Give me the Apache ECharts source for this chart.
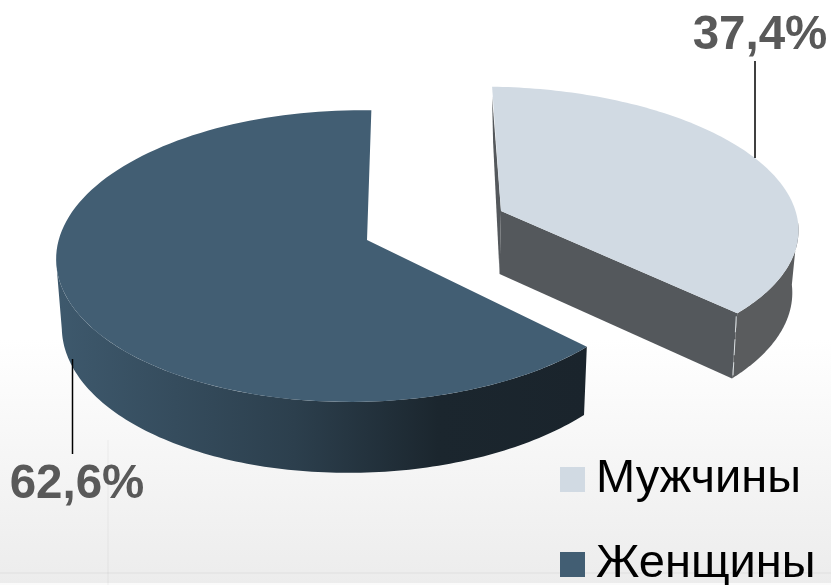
<!DOCTYPE html>
<html><head><meta charset="utf-8">
<style>html,body{margin:0;padding:0;background:#fff}#c{width:831px;height:585px}</style>
<script src="https://cdn.jsdelivr.net/npm/echarts@6/dist/echarts.min.js"></script>
</head><body><div id="c"></div>
<script>
var categories = ['Мужчины', 'Женщины'];
var shareValues = [37.4, 62.6];
var valueLabels = ['37,4%', '62,6%'];
var colors = ['#d1dae3', '#425e73'];

var vanishX = 411, persp = 0.11, skew = -0.035, shrink = 0.984;
var slices = [
  {cx: 501, cy: 211, rx: 308, ry: 138, h: 63},
  {cx: 367, cy: 240, rx: 296, ry: 144, h: 66}
];
var leaders = [
  {x: 755, y1: 61, y2: 158, tx: 760, ty: 36},
  {x: 72.5, y1: 359, y2: 454, tx: 77, ty: 485}
];

function project(s, t, down) {
  var u = Math.sin(t), v = -Math.cos(t);
  var w = 1 - persp * v - skew * u;
  var x = vanishX + (s.cx - vanishX + s.rx * u) / w;
  var y = s.cy + s.ry * v / w;
  if (down) {
    y += s.h * (1 + 0.6 * (1 / w - 1));
    x = vanishX + (x - vanishX) * shrink;
  }
  return [x, y];
}
function apex(s, down) {
  var x = s.cx, y = s.cy;
  if (down) { y += s.h; x = vanishX + (x - vanishX) * shrink; }
  return [x, y];
}
function arc(s, a, b, down) {
  var pts = [], n = 120;
  for (var i = 0; i <= n; i++) pts.push(project(s, a + (b - a) * i / n, down));
  return pts;
}
function poly(points, style) {
  return {type: 'polygon', shape: {points: points}, style: style, silent: true};
}
function line(x1, y1, x2, y2, style) {
  return {type: 'line', shape: {x1: x1, y1: y1, x2: x2, y2: y2}, style: style, silent: true};
}
var total = shareValues[0] + shareValues[1];
var rad = Math.PI / 180;

function renderSlice(index) {
  return function (params, api) {
    var s = slices[index], l = leaders[index], value = api.value(0);
    var sweep = value / total * 360 * rad;
    var a, b, kids = [];
    if (index === 0) { a = 0; b = sweep; } else { a = 2 * Math.PI - sweep; b = 2 * Math.PI; }
    var top = arc(s, a, b, false);
    var tipAngle = index === 0 ? b : a;
    var tip = project(s, tipAngle, false), tipD = project(s, tipAngle, true);
    if (index === 0) {
      var st = project(s, 0, false);
      kids.push(poly([[st[0], st[1] + 10], apex(s), apex(s, true), [st[0] + 1, st[1] + 55]], {fill: '#54585c'}));
      kids.push(poly([apex(s), tip, tipD, apex(s, true)], {fill: '#54585c'}));
      var wa = 95 * rad;
      kids.push(poly(arc(s, wa, b, false).concat(arc(s, wa, b, true).reverse()), {fill: '#5a5c5e'}));
      kids.push(line(tip[0] - 1, tip[1] + 3, tipD[0] + 1, tipD[1] - 3, {stroke: '#d8dde0', lineWidth: 1, lineDash: [16, 7]}));
    } else {
      var wb = 262 * rad;
      kids.push(poly(arc(s, a, wb, false).concat(arc(s, a, wb, true).reverse()), {
        fill: new echarts.graphic.LinearGradient(0, 0, 1, 0, [
          {offset: 0, color: '#3e596d'}, {offset: 0.45, color: '#2c3f4d'},
          {offset: 0.72, color: '#1b262e'}, {offset: 1, color: '#1a242c'}
        ], false)
      }));
    }
    kids.push(poly(top.concat([apex(s)]), {fill: colors[index]}));
    kids.push(line(l.x, l.y1, l.x, l.y2, {stroke: '#000', lineWidth: 1.5}));
    kids.push({type: 'text', silent: true, style: {
      x: l.tx, y: l.ty, text: valueLabels[index], fill: '#595959', align: 'center', verticalAlign: 'middle',
      font: 'bold 47.5px "Liberation Sans", Arial, sans-serif'
    }});
    return {type: 'group', children: kids};
  };
}

var chart = echarts.init(document.getElementById('c'), null, {renderer: 'canvas'});
chart.setOption({
  animation: false,
  backgroundColor: new echarts.graphic.LinearGradient(0, 0, 0, 1, [
    {offset: 0, color: '#ffffff'}, {offset: 0.58, color: '#ffffff'},
    {offset: 0.8, color: '#f5f5f5'}, {offset: 1, color: '#ececec'}
  ]),
  graphic: [
    {type: 'rect', z: -1, silent: true, shape: {x: 0, y: 572, width: 831, height: 2}, style: {fill: '#e6e6e6'}},
    {type: 'rect', z: -1, silent: true, shape: {x: 0, y: 583, width: 831, height: 2}, style: {fill: '#fbfbfb'}},
    {type: 'rect', z: -1, silent: true, shape: {x: 107, y: 440, width: 2, height: 145}, style: {fill: 'rgba(0,0,0,0.025)'}}
  ],
  legend: {
    orient: 'vertical', left: 560, top: 456, height: 300, padding: 0,
    icon: 'rect',
    itemWidth: 25, itemHeight: 25, itemGap: 38,
    data: categories,
    textStyle: {fontFamily: '"Liberation Sans", Arial, sans-serif', fontSize: 47, color: '#000', padding: [0, 0, 0, 6]},
    selectedMode: false
  },
  series: categories.map(function (name, i) {
    return {
      type: 'custom', name: name, coordinateSystem: 'none',
      itemStyle: {color: colors[i]},
      data: [[shareValues[i]]],
      renderItem: renderSlice(i)
    };
  })
});
</script></body></html>
